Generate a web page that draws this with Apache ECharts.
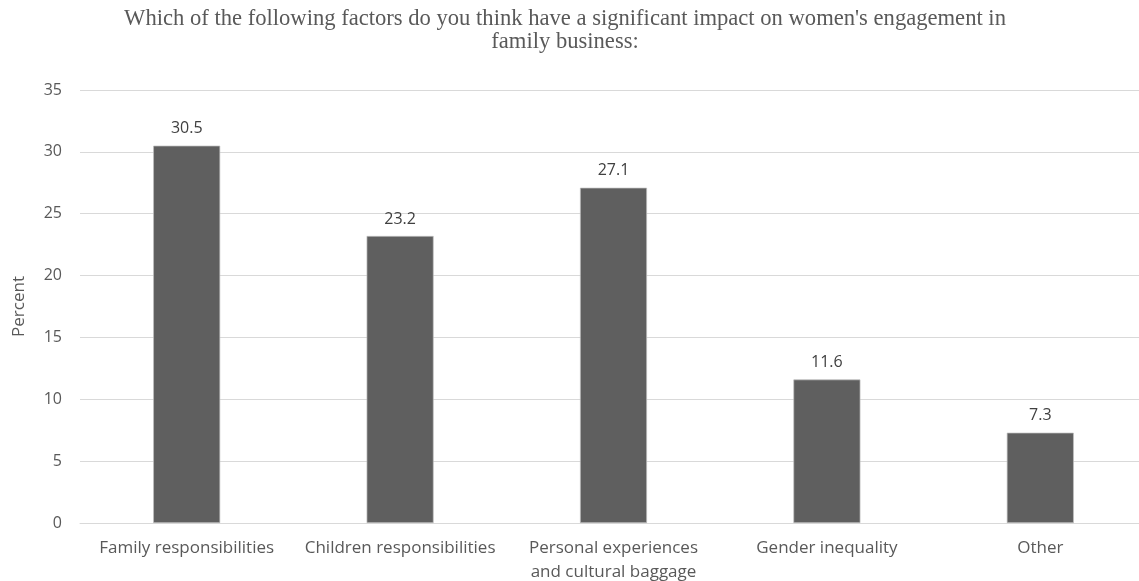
<!DOCTYPE html>
<html>
<head>
<meta charset="utf-8">
<script src="https://cdn.jsdelivr.net/npm/echarts@6/dist/echarts.min.js"></script>
<style>
  html, body { margin: 0; padding: 0; background: #fff; }
  #chart { width: 1139px; height: 581px; }
</style>
</head>
<body>
<div id="chart"></div>
<script>
var categories = [
	'Family responsibilities',
	'Children responsibilities',
	'Personal experiences\nand cultural baggage',
	'Gender inequality',
	'Other'
];
var percents = [30.5, 23.2, 27.1, 11.6, 7.3];
var yTicks = { min: 0, max: 35, interval: 5 };

var chart = echarts.init(document.getElementById('chart'));
var option = {
	animation: false,
	title: {
		text: "Which of the following factors do you think have a significant impact on women's engagement in\nfamily business:",
		left: 560,
		top: 3,
		textAlign: 'center',
		textStyle: {
			fontFamily: 'Liberation Serif',
			fontSize: 22.6,
			fontWeight: 'normal',
			color: '#595959',
			lineHeight: 23
		}
	},
	grid: {
		left: 80,
		right: -8,
		top: 90,
		bottom: 58,
		containLabel: false,
		outerBoundsMode: 'none'
	},
	xAxis: {
		type: 'category',
		data: categories,
		axisLine: { show: true, lineStyle: { color: '#d9d9d9', width: 1 } },
		axisTick: { show: false },
		axisLabel: {
			interval: 0,
			margin: 13,
			fontFamily: 'Open Sans',
			fontSize: 17,
			lineHeight: 24,
			color: '#595959'
		}
	},
	yAxis: {
		type: 'value',
		min: yTicks.min,
		max: yTicks.max,
		interval: yTicks.interval,
		name: 'Percent',
		nameLocation: 'middle',
		nameGap: 52,
		nameTextStyle: {
			fontFamily: 'Open Sans',
			fontSize: 17,
			color: '#595959'
		},
		axisLine: { show: false },
		axisTick: { show: false },
		axisLabel: {
			margin: 18,
			fontFamily: 'Open Sans',
			fontSize: 16,
			color: '#595959'
		},
		splitLine: { lineStyle: { color: '#d9d9d9', width: 1 } }
	},
	series: [{
		type: 'bar',
		data: percents,
		barWidth: 67,
		itemStyle: { color: '#5f5f5f', borderColor: '#bfbfbf', borderWidth: 0.7 },
		label: {
			show: true,
			position: 'top',
			distance: 9,
			fontFamily: 'Open Sans',
			fontSize: 16,
			color: '#404040'
		}
	}]
};
chart.setOption(option);
</script>
</body>
</html>
